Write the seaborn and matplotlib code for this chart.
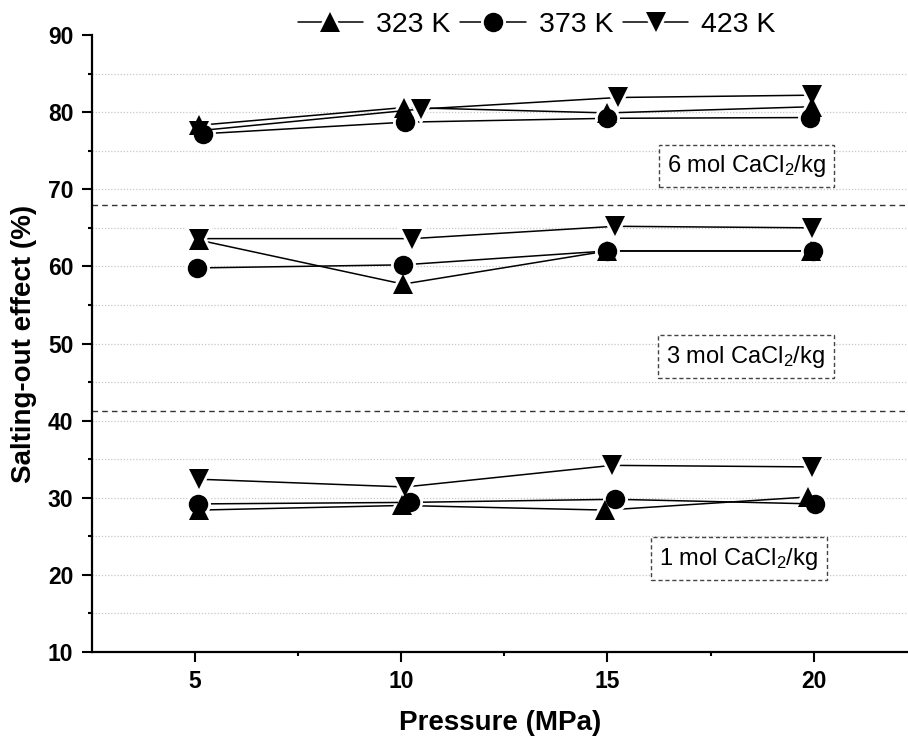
import matplotlib
matplotlib.use("Agg")
import matplotlib.pyplot as plt
from matplotlib.lines import Line2D
from matplotlib.legend_handler import HandlerTuple
import seaborn as sns
import pandas as pd

# ---------------- data ----------------
temperatures = ["323 K", "373 K", "423 K"]
groups = ["1 mol", "3 mol", "6 mol"]
group_labels = ["1 mol CaCl$_\\mathregular{2}$/kg",
                "3 mol CaCl$_\\mathregular{2}$/kg",
                "6 mol CaCl$_\\mathregular{2}$/kg"]

# 1 mol CaCl2/kg
p_1_323 = [5.11, 10.03, 14.95, 19.86]
s_1_323 = [28.4, 29.0, 28.4, 30.1]
p_1_373 = [5.09, 10.22, 15.19, 20.03]
s_1_373 = [29.2, 29.4, 29.8, 29.2]
p_1_423 = [5.11, 10.10, 15.11, 19.95]
s_1_423 = [32.4, 31.4, 34.2, 34.0]

# 3 mol CaCl2/kg
p_3_323 = [5.11, 10.05, 14.99, 19.93]
s_3_323 = [63.4, 57.7, 62.0, 62.0]
p_3_373 = [5.06, 10.05, 14.99, 19.98]
s_3_373 = [59.8, 60.2, 62.0, 62.0]
p_3_423 = [5.11, 10.27, 15.19, 19.95]
s_3_423 = [63.6, 63.6, 65.2, 65.0]

# 6 mol CaCl2/kg
p_6_323 = [5.11, 10.08, 15.00, 19.95]
s_6_323 = [78.3, 80.6, 79.9, 80.7]
p_6_373 = [5.21, 10.10, 15.00, 19.90]
s_6_373 = [77.2, 78.7, 79.2, 79.3]
p_6_423 = [5.11, 10.47, 15.26, 19.95]
s_6_423 = [77.6, 80.4, 81.9, 82.2]

# positions of the group labels (data coords) and separators
label_x = [18.18, 18.35, 18.37]
label_y = [22.1, 48.3, 73.0]
separators = [41.2, 68.0]

# ---------------- build table ----------------
series = {
    ("1 mol", "323 K"): (p_1_323, s_1_323),
    ("1 mol", "373 K"): (p_1_373, s_1_373),
    ("1 mol", "423 K"): (p_1_423, s_1_423),
    ("3 mol", "323 K"): (p_3_323, s_3_323),
    ("3 mol", "373 K"): (p_3_373, s_3_373),
    ("3 mol", "423 K"): (p_3_423, s_3_423),
    ("6 mol", "323 K"): (p_6_323, s_6_323),
    ("6 mol", "373 K"): (p_6_373, s_6_373),
    ("6 mol", "423 K"): (p_6_423, s_6_423),
}
rows = []
for (g, t), (ps, ss) in series.items():
    for i, (p, s) in enumerate(zip(ps, ss)):
        rows.append({"group": g, "temp": t, "P": p, "S": s, "idx": i})
df = pd.DataFrame(rows)

# ---------------- style ----------------
sns.set_theme(style="white")
plt.rcParams["font.family"] = ["Liberation Sans", "DejaVu Sans"]
plt.rcParams["mathtext.default"] = "regular"
plt.rcParams["text.color"] = "black"
plt.rcParams["axes.labelcolor"] = "black"
plt.rcParams["xtick.color"] = "black"
plt.rcParams["ytick.color"] = "black"

fig = plt.figure(figsize=(9.08, 7.42), dpi=100)
ax = fig.add_axes([0.1008, 0.1213, 0.8992, 0.8315])

markers = {"323 K": "^", "373 K": "o", "423 K": "v"}
msize = {"323 K": 15, "373 K": 14, "423 K": 15}

# pass 1: lines with white halos around the points (gap effect)
for g in groups:
    for t in temperatures:
        sub = df[(df["group"] == g) & (df["temp"] == t)]
        sns.lineplot(data=sub, x="P", y="S", color="black", linewidth=1.1,
                     marker=markers[t], markersize=msize[t],
                     markerfacecolor="white", markeredgecolor="white",
                     markeredgewidth=4, sort=False, estimator=None,
                     ax=ax, legend=False, zorder=3)
# pass 2: solid markers on top
for g in groups:
    for t in temperatures:
        sub = df[(df["group"] == g) & (df["temp"] == t)]
        sns.lineplot(data=sub, x="P", y="S", color="black", linestyle="none",
                     marker=markers[t], markersize=msize[t],
                     markeredgewidth=0, sort=False, estimator=None,
                     ax=ax, legend=False, zorder=4)

# grid (dotted light gray at every 5)
for yv in range(15, 90, 5):
    ax.axhline(yv, color="#c8c8c8", linestyle=(0, (1, 1.5)), linewidth=0.9, zorder=1)

for yv in separators:
    ax.axhline(yv, color="#333333", linestyle=(0, (4, 3)), linewidth=1.0, zorder=2)

for x, y, lab in zip(label_x, label_y, group_labels):
    ax.text(x, y, lab, fontsize=17, ha="center", va="center", zorder=5, color="black",
            bbox=dict(boxstyle="square,pad=0.35", facecolor="white",
                      edgecolor="#444444", linestyle=(0, (3, 2)), linewidth=1.0))

ax.set_xlim(2.5, 22.28)
ax.set_ylim(10, 90)
ax.set_xticks([5, 10, 15, 20])
ax.set_xticks([7.5, 12.5, 17.5], minor=True)
ax.set_yticks(range(10, 91, 10))
ax.set_yticks(range(15, 90, 10), minor=True)

for side in ["top", "right"]:
    ax.spines[side].set_visible(False)
for side in ["left", "bottom"]:
    ax.spines[side].set_linewidth(1.6)
    ax.spines[side].set_color("black")

ax.tick_params(axis="both", which="major", direction="out", length=7, width=1.5,
               labelsize=16.5, pad=6, color="black", left=True, bottom=True)
ax.tick_params(axis="both", which="minor", direction="out", length=3, width=1.5,
               color="black", left=True, bottom=True)
for lbl in ax.get_xticklabels() + ax.get_yticklabels():
    lbl.set_fontweight("bold")

ax.set_xlabel("Pressure (MPa)", fontsize=20, fontweight="bold", labelpad=12)
ax.set_ylabel("Salting-out effect (%)", fontsize=20, fontweight="bold", labelpad=8)

handles = []
for t in temperatures:
    halo = Line2D([0], [0], color="black", linewidth=1.1, marker=markers[t],
                  markersize=msize[t], markerfacecolor="white",
                  markeredgecolor="white", markeredgewidth=4)
    mk = Line2D([0], [0], color="black", linestyle="none", marker=markers[t],
                markersize=msize[t], markeredgewidth=0)
    handles.append((halo, mk))
fig.legend(handles, temperatures, loc="center", bbox_to_anchor=(0.591, 0.966),
           ncol=3, frameon=False, fontsize=20.5, handlelength=2.3,
           handletextpad=0.45, columnspacing=0.35, labelcolor="black",
           handler_map={tuple: HandlerTuple(ndivide=1, pad=0)})

fig.savefig("out.png", dpi=100)
